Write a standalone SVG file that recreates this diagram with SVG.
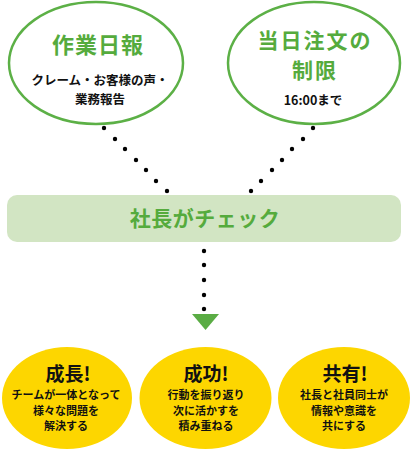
<svg xmlns="http://www.w3.org/2000/svg" width="410" height="450" viewBox="0 0 410 450">
<style>
text{font-family:"Noto Sans CJK JP","Noto Sans",sans-serif;font-weight:bold;text-anchor:middle;dominant-baseline:central}
.bubble{fill:#fff;stroke:#5cb046;stroke-width:2.5}
.gt{fill:#55ab3d}
.k{fill:#111}
.y{fill:#fdd600}
.dot{fill:#000}
</style>
<defs>
<circle id="d" r="2.2" class="dot"/>
</defs>
<g id="node-nippo">
<ellipse class="bubble" cx="96" cy="63" rx="87" ry="61"/>
<text class="gt" x="98" y="43" font-size="22" letter-spacing="1">作業日報</text>
<text class="k" x="100" y="79" font-size="12.5">クレーム・お客様の声・</text>
<text class="k" x="100" y="98" font-size="12.5">業務報告</text>
</g>
<g id="node-seigen">
<ellipse class="bubble" cx="314" cy="63" rx="86" ry="61"/>
<text class="gt" x="315" y="39" font-size="21" letter-spacing="2">当日注文の</text>
<text class="gt" x="315" y="69" font-size="21" letter-spacing="2">制限</text>
<text class="k" x="313" y="99" font-size="12.5">16:00まで</text>
</g>
<g id="node-check">
<rect x="7" y="195" width="394" height="47" rx="10" fill="#d2e5c3"/>
<text class="gt" x="205" y="217" font-size="21" letter-spacing="0.5">社長がチェック</text>
</g>
<g id="connectors">
<use href="#d" x="104" y="128"/><use href="#d" x="115" y="139"/><use href="#d" x="125" y="149"/><use href="#d" x="136" y="160"/><use href="#d" x="146" y="170"/><use href="#d" x="156" y="181"/><use href="#d" x="167" y="191"/>
<use href="#d" x="313" y="128"/><use href="#d" x="303" y="139"/><use href="#d" x="292" y="149"/><use href="#d" x="282" y="160"/><use href="#d" x="272" y="170"/><use href="#d" x="261" y="181"/><use href="#d" x="251" y="191"/>
<use href="#d" x="204" y="251"/><use href="#d" x="204" y="265"/><use href="#d" x="204" y="280"/><use href="#d" x="204" y="295"/><use href="#d" x="204" y="309"/>
<polygon points="192,314 219,314 205.5,330" fill="#5aac44"/>
</g>
<g id="node-seicho">
<ellipse class="y" cx="67" cy="398" rx="65" ry="51"/>
<text class="k" x="68" y="372" font-size="19">成長!</text>
<text class="k" x="66" y="394" font-size="11">チームが一体となって</text>
<text class="k" x="66" y="410" font-size="11">様々な問題を</text>
<text class="k" x="66" y="425" font-size="11">解決する</text>
</g>
<g id="node-seiko">
<ellipse class="y" cx="205.5" cy="398" rx="66" ry="51"/>
<text class="k" x="206" y="372" font-size="19">成功!</text>
<text class="k" x="206" y="394" font-size="11">行動を振り返り</text>
<text class="k" x="206" y="410" font-size="11">次に活かすを</text>
<text class="k" x="206" y="425" font-size="11">積み重ねる</text>
</g>
<g id="node-kyoyu">
<ellipse class="y" cx="344" cy="398" rx="66" ry="51"/>
<text class="k" x="345" y="372" font-size="19">共有!</text>
<text class="k" x="344" y="394" font-size="11">社長と社員同士が</text>
<text class="k" x="344" y="410" font-size="11">情報や意識を</text>
<text class="k" x="344" y="425" font-size="11">共にする</text>
</g>
</svg>
